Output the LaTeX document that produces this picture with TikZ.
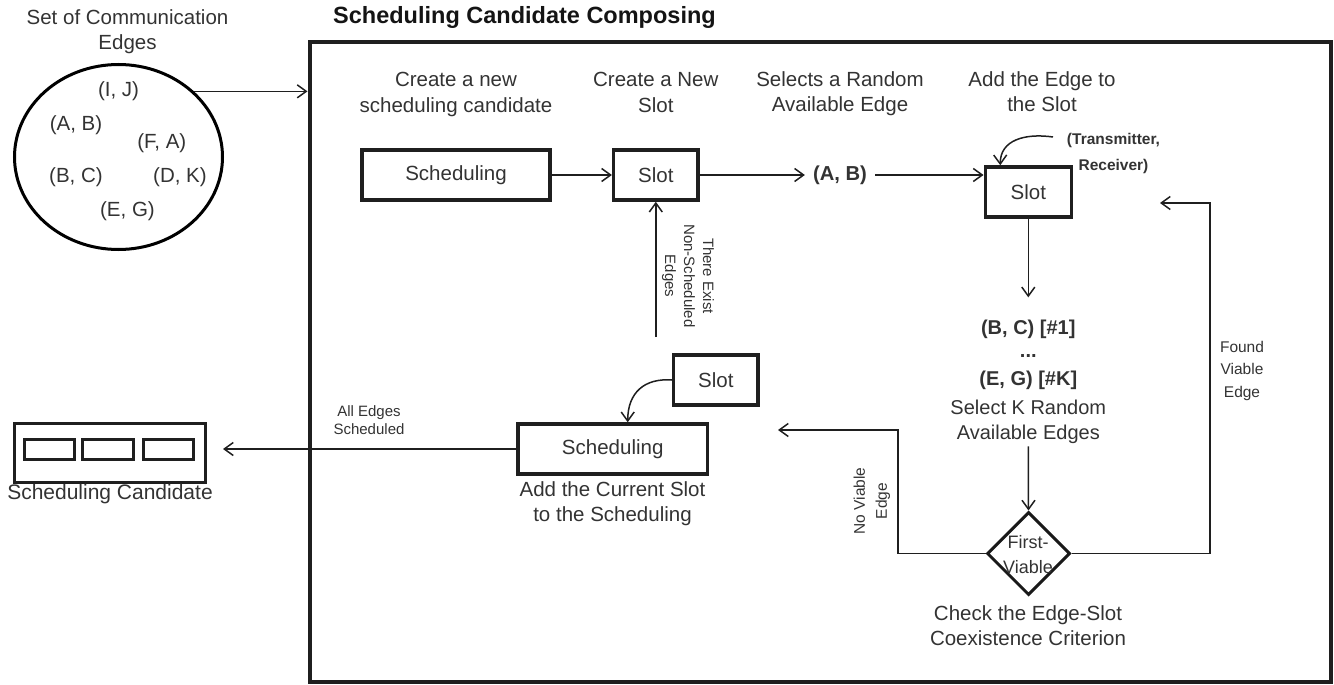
\documentclass[tikz,border=0pt]{standalone}
\usepackage{fontspec}
\setmainfont{Liberation Sans}
\usetikzlibrary{arrows.meta,shapes.geometric}
\newcommand{\mlines}[1]{\begin{tabular}[t]{@{}c@{}}#1\end{tabular}}
\begin{document}
\begin{tikzpicture}[x=1pt,y=-1pt,
  box/.style={draw=black!88, line width=3.5pt, rectangle, minimum height=50pt, inner sep=0pt, text=black!80, font=\fontsize{20.5}{24}\selectfont},
  lbl/.style={inner sep=0pt, text=black!80, font=\fontsize{20.5}{25}\selectfont},
  small/.style={inner sep=0pt, text=black!80, font=\fontsize{15.5}{22}\selectfont},
  conn/.style={line width=1.5pt, draw=black!88, -{Straight Barb[length=9pt,width=13pt]}},
  plain/.style={line width=1.5pt, draw=black!88}]
\useasboundingbox (0,0) rectangle (1334,685);

% frame and title
\node[draw=black!88, line width=4pt, rectangle, inner sep=0pt, minimum width=1021pt, minimum height=639.5pt] (frame) at (820,362.25) {};
\node[anchor=base west, inner sep=0pt, text=black!92, font=\bfseries\fontsize{23.5}{28}\selectfont] (title) at (333,24) {Scheduling Candidate Composing};

% set of edges
\node[lbl, anchor=base] (sethead) at (127.5,24.3) {\mlines{Set of Communication\\Edges}};
\node[draw=black, line width=3pt, ellipse, inner sep=0pt, minimum width=208pt, minimum height=185pt] (set) at (118.5,157) {};
\node[lbl, anchor=base] (e1) at (118.5,96.3) {(I, J)};
\node[lbl, anchor=base] (e2) at (76,130.3) {(A, B)};
\node[lbl, anchor=base] (e3) at (161.8,148.6) {(F, A)};
\node[lbl, anchor=base] (e4) at (76,182) {(B, C)};
\node[lbl, anchor=base] (e5) at (180,182) {(D, K)};
\node[lbl, anchor=base] (e6) at (127.5,216) {(E, G)};

% top step labels
\node[lbl, anchor=base] (t1) at (456,87) {\mlines{Create a new\\scheduling candidate}};
\node[lbl, anchor=base] (t2) at (655.8,87) {\mlines{Create a New\\Slot}};
\node[lbl, anchor=base] (t3) at (840,86.5) {\mlines{Selects a Random\\Available Edge}};
\node[lbl, anchor=base] (t4) at (1042,86.5) {\mlines{Add the Edge to\\the Slot}};

% boxes
\node[box, minimum width=188pt] (sched1) at (456,175) {Scheduling};
\node[box, minimum width=84.3pt] (slot1) at (655.8,175) {Slot};
\node[inner xsep=8pt, inner ysep=0pt, text=black!80, font=\bfseries\fontsize{20.2}{24}\selectfont] (ab) at (840,175) {(A, B)};
\node[box, minimum width=86pt] (slot2) at (1028.3,192) {Slot};
\node[anchor=base, inner sep=0pt, text=black!80, font=\bfseries\fontsize{15.5}{26}\selectfont] (trans) at (1113.5,144.8) {\mlines{(Transmitter,\\Receiver)}};
\coordinate (trsrc) at (1053,137);

\node[lbl, anchor=base, font=\fontsize{20}{23.5}\selectfont] (cand) at (1028.3,334) {\mlines{\bfseries (B, C) [\#1]\\\bfseries ...\\[4pt]\bfseries (E, G) [\#K]\\[5.5pt]Select K Random\\[1.5pt]Available Edges}};

\node[draw=black!90, line width=3pt, diamond, aspect=1, inner sep=0pt, minimum width=83pt, minimum height=83pt] (fv) at (1028.5,553.5) {};
\node[lbl, anchor=base, font=\fontsize{18}{25}\selectfont] (fvtext) at (1028,548) {\mlines{First-\\Viable}};
\node[lbl, anchor=base] (check) at (1028,620) {\mlines{Check the Edge-Slot\\Coexistence Criterion}};

\node[box, minimum width=84.3pt] (slot3) at (715.8,380) {Slot};
\node[box, minimum width=189.3pt] (sched2) at (612.7,449) {Scheduling};
\node[lbl, anchor=base] (addlbl) at (612.5,496) {\mlines{Add the Current Slot\\to the Scheduling}};

% scheduling candidate
\node[draw=black!88, line width=3pt, rectangle, inner sep=0pt, minimum width=190.4pt, minimum height=59.3pt] (cbox) at (110,452.9) {};
\node[draw=black!88, line width=3pt, rectangle, inner sep=0pt, minimum width=50.3pt, minimum height=19.4pt] (cb1) at (49.3,449.5) {};
\node[draw=black!88, line width=3pt, rectangle, inner sep=0pt, minimum width=51pt, minimum height=19.4pt] (cb2) at (108,449.5) {};
\node[draw=black!88, line width=3pt, rectangle, inner sep=0pt, minimum width=50.3pt, minimum height=19.4pt] (cb3) at (168.3,449.5) {};
\node[lbl, anchor=base, font=\fontsize{21}{25}\selectfont] (candlbl) at (110,499) {Scheduling Candidate};

% edge labels
\node[small, rotate=-90, font=\fontsize{15}{19}\selectfont] (exlbl) at (688,276) {\mlines{There Exist\\Non-Scheduled\\Edges}};
\node[small, rotate=90] (nvlbl) at (871.5,501) {\mlines{No Viable\\Edge}};
\node[small, anchor=base, font=\fontsize{15.5}{22.5}\selectfont] (fvlbl) at (1242,352) {\mlines{Found\\Viable\\Edge}};
\node[small, anchor=base, font=\fontsize{15}{18}\selectfont] (alllbl) at (369,416) {\mlines{All Edges\\Scheduled}};

% free ends and corners
\coordinate (upstart) at (655.8,337);
\coordinate (fvcorner) at (1210,203);
\coordinate (fvend) at (1160,203);
\coordinate (nvcorner) at (898,430);
\coordinate (nvend) at (778,430);
\coordinate (allend) at (223,449);

% connectors
\draw[conn] (set.41) -- (set.41 -| frame.west);
\draw[conn] (sched1) -- (slot1);
\draw[conn] (slot1) -- (ab);
\draw[conn] (ab.east) -- (ab.east -| slot2.west);
\draw[conn] (trsrc) .. controls (1025,133) and (1000,140) .. ([xshift=-28pt]slot2.north);
\draw[conn, shorten >=20pt] (slot2.south) -- (cand.north);
\draw[conn] (cand.south) -- (fv.north);
\draw[conn] (fv.east) -| (fvcorner) -- (fvend);
\draw[conn] (fv.west) -| (nvcorner) -- (nvend);
\draw[conn] (upstart) -- (slot1.south);
\draw[conn] (slot3.west) .. controls (645,378) and (627.7,392) .. ([xshift=15pt]sched2.north);
\draw[conn] (sched2.west) -- (allend);
\end{tikzpicture}
\end{document}
